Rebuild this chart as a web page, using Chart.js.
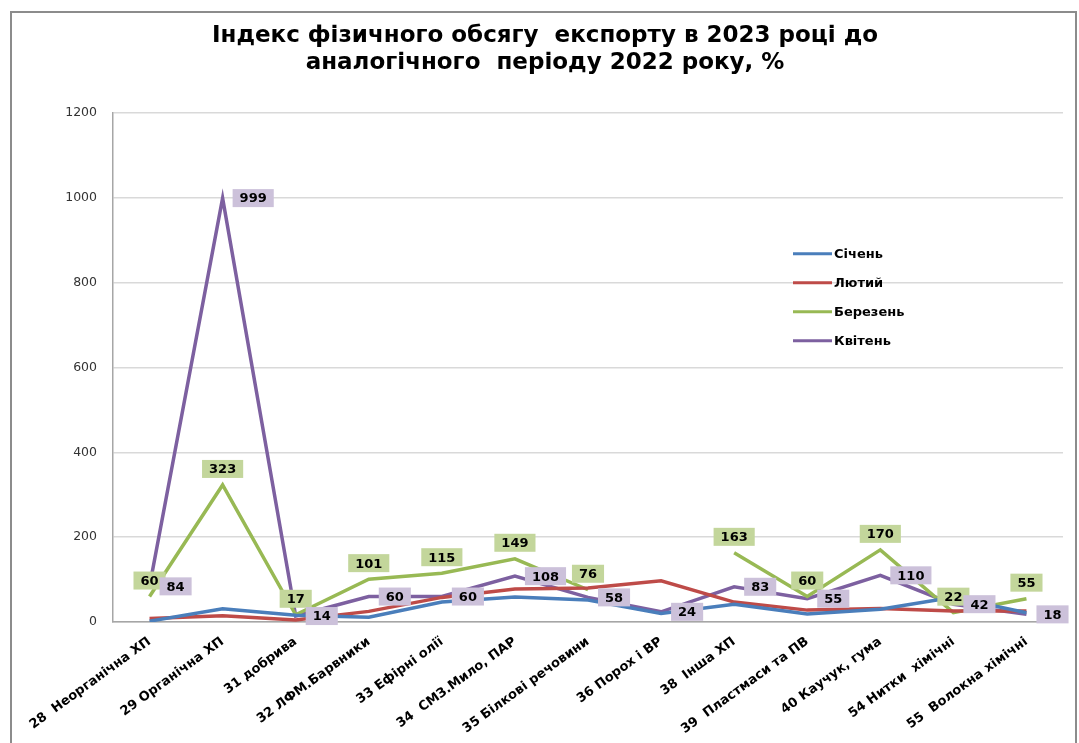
<!DOCTYPE html>
<html lang="uk">
<head>
<meta charset="utf-8">
<title>Індекс фізичного обсягу експорту</title>
<script src="https://cdn.jsdelivr.net/npm/chart.js@4.4.1/dist/chart.umd.min.js"></script>
<style>
    html, body { margin: 0; padding: 0; background: #fff; overflow: hidden; }
    #wrap { position: relative; width: 1079px; height: 743px; overflow: hidden; }
    #grafico { position: absolute; left: 0; top: 0; }
    #ramka {
        position: absolute; left: 10px; top: 11px; width: 1063px; height: 760px;
        border: 2px solid #8c8c8c; border-bottom: none; pointer-events: none;
    }
</style>
</head>
<body>
<div id="wrap">
    <canvas id="grafico" width="1079" height="743"></canvas>
    <div id="ramka"></div>
</div>
<script>
// Дані графіка
var kategorii = [
    '28  Неорганічна ХП', '29 Органічна ХП', '31 добрива', '32 ЛФМ.Барвники',
    '33 Ефірні олії', '34  СМЗ.Мило, ПАР', '35 Білкові речовини', '36 Порох і ВР',
    '38  Інша ХП', '39  Пластмаси та ПВ', '40 Каучук, гума', '54 Нитки  хімічні',
    '55  Волокна хімічні'
];
var sichen   = [2, 31, 16, 11, 47, 59, 52, 20, 42, 19, 30, 58, 22];
var lyutyi   = [8, 15, 5, 25, 58, 78, 80, 97, 47, 28, 32, 26, 26];
var berezen  = [60, 323, 17, 101, 115, 149, 76, null, 163, 60, 170, 22, 55];
var kviten   = [84, 999, 14, 60, 60, 108, 58, 24, 83, 55, 110, 42, 18];
var tykyY    = [0, 200, 400, 600, 800, 1000, 1200];

(function () {
    'use strict';

    var SHRYFT = 'DejaVu Sans, Verdana, sans-serif';

    // Підписи значень у кольорових прямокутниках
    var pidpysy = {
        id: 'pidpysy',
        afterDatasetsDraw: function (chart) {
            var ctx = chart.ctx;
            ctx.save();
            ctx.font = 'bold 13px ' + SHRYFT;
            ctx.textAlign = 'center';
            ctx.textBaseline = 'middle';
            chart.data.datasets.forEach(function (ds, i) {
                if (!ds.pidpys) return;
                var meta = chart.getDatasetMeta(i);
                meta.data.forEach(function (pt, j) {
                    var v = ds.data[j];
                    if (v === null || v === undefined) return;
                    var txt = String(v);
                    var w = ctx.measureText(txt).width + 14;
                    var h = 18;
                    var cx, cy;
                    if (ds.pidpys.mistse === 'pravoruch') {
                        cx = pt.x + 10 + w / 2;
                        cy = pt.y;
                    } else {
                        cx = pt.x;
                        cy = pt.y - 16;
                    }
                    ctx.fillStyle = ds.pidpys.fon;
                    ctx.fillRect(cx - w / 2, cy - h / 2, w, h);
                    ctx.fillStyle = '#000';
                    ctx.fillText(txt, cx, cy + 1);
                });
            });
            ctx.restore();
        }
    };

    // Легенда всередині області графіка
    var legenda = {
        id: 'legenda',
        afterDraw: function (chart) {
            var ctx = chart.ctx;
            var x0 = chart.chartArea.left + 680;
            var y0 = chart.chartArea.top + 141;
            ctx.save();
            ctx.font = 'bold 13px ' + SHRYFT;
            ctx.textBaseline = 'middle';
            chart.data.datasets.forEach(function (ds, i) {
                var y = y0 + i * 29;
                ctx.strokeStyle = ds.borderColor;
                ctx.lineWidth = 3;
                ctx.beginPath();
                ctx.moveTo(x0, y);
                ctx.lineTo(x0 + 39, y);
                ctx.stroke();
                ctx.fillStyle = '#000';
                ctx.fillText(ds.label, x0 + 41, y + 1);
            });
            ctx.restore();
        }
    };

    function seriia(nazva, dani, kolir, pidpys) {
        return {
            label: nazva,
            data: dani,
            borderColor: kolir,
            backgroundColor: kolir,
            borderWidth: 3.5,
            pointRadius: 0,
            tension: 0,
            spanGaps: false,
            pidpys: pidpys
        };
    }

    new Chart(document.getElementById('grafico').getContext('2d'), {
        type: 'line',
        data: {
            labels: kategorii,
            datasets: [
                seriia('Січень', sichen, '#4A7EBB', null),
                seriia('Лютий', lyutyi, '#BE4B48', null),
                seriia('Березень', berezen, '#98B954', { fon: '#C3D69B', mistse: 'zverkhu' }),
                seriia('Квітень', kviten, '#7D60A0', { fon: '#CCC1DA', mistse: 'pravoruch' })
            ]
        },
        options: {
            responsive: false,
            animation: false,
            layout: { padding: { top: 0, left: 27, right: 16, bottom: 0 } },
            plugins: {
                legend: { display: false },
                tooltip: { enabled: false },
                title: {
                    display: true,
                    text: ['Індекс фізичного обсягу  експорту в 2023 році до', 'аналогічного  періоду 2022 року, %'],
                    color: '#000',
                    font: { family: SHRYFT, size: 23, weight: 'bold', lineHeight: 1.17 },
                    padding: { top: 23, bottom: 36 }
                }
            },
            scales: {
                x: {
                    offset: true,
                    afterFit: function (s) { s.height = 121; },
                    grid: { display: false, drawTicks: false },
                    border: { color: '#a6a6a6', width: 1.5 },
                    ticks: {
                        autoSkip: false,
                        minRotation: 36,
                        maxRotation: 36,
                        padding: 12,
                        color: '#000',
                        font: { family: SHRYFT, size: 13, weight: 'bold' }
                    }
                },
                y: {
                    min: 0,
                    max: 1200,
                    afterFit: function (s) { s.width = 86; },
                    afterBuildTicks: function (s) {
                        s.ticks = tykyY.map(function (v) { return { value: v }; });
                    },
                    grid: { color: '#d9d9d9', lineWidth: 1.5, drawTicks: false },
                    border: { color: '#a6a6a6', width: 1.5 },
                    ticks: {
                        padding: 16,
                        color: '#333',
                        font: { family: SHRYFT, size: 12.5 },
                        callback: function (v) { return String(v); }
                    }
                }
            }
        },
        plugins: [pidpysy, legenda]
    });
})();
</script>
</body>
</html>
